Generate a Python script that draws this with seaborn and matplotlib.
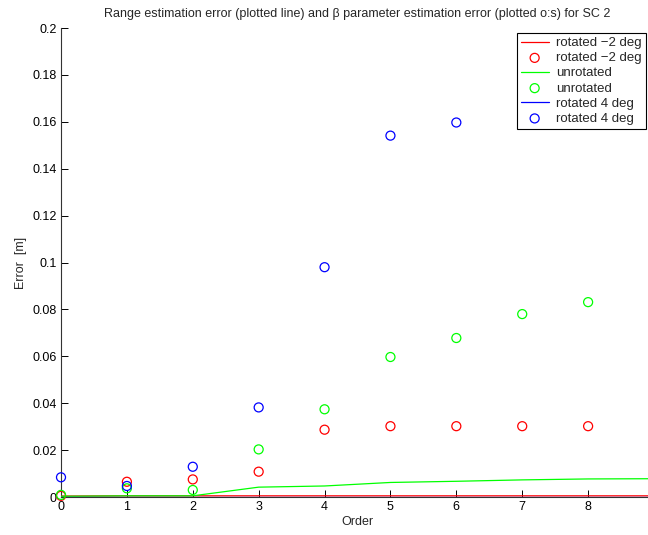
import matplotlib
matplotlib.use("Agg")
import matplotlib.pyplot as plt
import seaborn as sns
import numpy as np
from matplotlib.ticker import FuncFormatter

sns.set_style("white")
plt.rcParams['font.family'] = ['Liberation Sans', 'DejaVu Sans']

orders_line = [0, 1, 2, 3, 4, 5, 6, 7, 8, 9]
range_m2 = [0.0004, 0.0005, 0.0005, 0.0005, 0.0005, 0.0005, 0.0005, 0.0005, 0.0005, 0.0005]
range_un = [0.0003, 0.0005, 0.0005, 0.0042, 0.0047, 0.0062, 0.0067, 0.0073, 0.0077, 0.0078]
range_p4 = [0.0002, 0.0002, 0.0002, 0.0002, 0.0002, 0.0002, 0.0002, 0.0002, 0.0002, 0.0002]

orders_m2 = [0, 1, 2, 3, 4, 5, 6, 7, 8]
beta_m2 = [0.0005, 0.0065, 0.0075, 0.0108, 0.0287, 0.0302, 0.0302, 0.0302, 0.0302]
orders_un = [0, 1, 2, 3, 4, 5, 6, 7, 8]
beta_un = [0.0009, 0.0037, 0.0030, 0.0203, 0.0374, 0.0597, 0.0678, 0.0780, 0.0831]
orders_p4 = [0, 1, 2, 3, 4, 5, 6]
beta_p4 = [0.0084, 0.0047, 0.0129, 0.0382, 0.0980, 0.1541, 0.1597]

labels = ["rotated \u22122 deg", "unrotated", "rotated 4 deg"]
colors = ["#ff0000", "#00ff00", "#0000ff"]

fig = plt.figure(figsize=(6.48, 5.35), dpi=100)
ax = fig.add_axes([61/648, 38/535, 593/648, 469/535])

series = [(range_m2, orders_m2, beta_m2), (range_un, orders_un, beta_un), (range_p4, orders_p4, beta_p4)]
for (rl, ox, bv), lab, c in zip(series, labels, colors):
    sns.lineplot(x=orders_line, y=rl, ax=ax, color=c, linewidth=0.9, label=lab, zorder=3)
    sns.scatterplot(x=ox, y=bv, ax=ax, marker='o', s=42, facecolor='none', edgecolor=c,
                    linewidth=0.9, label=lab, zorder=4, clip_on=False)

ax.set_xlim(0, 9)
ax.set_ylim(0, 0.2)
ax.set_xticks(range(0, 9))
ax.set_yticks(np.arange(0, 0.2001, 0.02))
ax.yaxis.set_major_formatter(FuncFormatter(lambda v, p: "%g" % round(v, 3)))
ax.tick_params(direction='in', length=5, width=0.7, labelsize=9, colors='black', pad=3,
               bottom=True, left=True, top=False, right=False)
for s in ['top', 'right']:
    ax.spines[s].set_visible(False)
for s in ['left', 'bottom']:
    ax.spines[s].set_color('#333333')
    ax.spines[s].set_linewidth(0.8)

ax.set_xlabel("Order", fontsize=9, labelpad=2)
ax.set_ylabel("Error  [m]", fontsize=9, labelpad=4)
ax.set_title("Range estimation error (plotted line) and \u03b2 parameter estimation error (plotted o:s) for SC 2",
             fontsize=9, pad=8)

h, l = ax.get_legend_handles_labels()
leg = ax.legend(h, l, loc='upper right', bbox_to_anchor=(646/648, 1 - 33/535),
                bbox_transform=fig.transFigure, fontsize=9.5, frameon=True, fancybox=False,
                edgecolor='black', framealpha=1, borderpad=0.3, labelspacing=0.22,
                handlelength=2.1, handletextpad=0.6, borderaxespad=0)
leg.get_frame().set_linewidth(0.8)

fig.savefig("out.png", dpi=100)
